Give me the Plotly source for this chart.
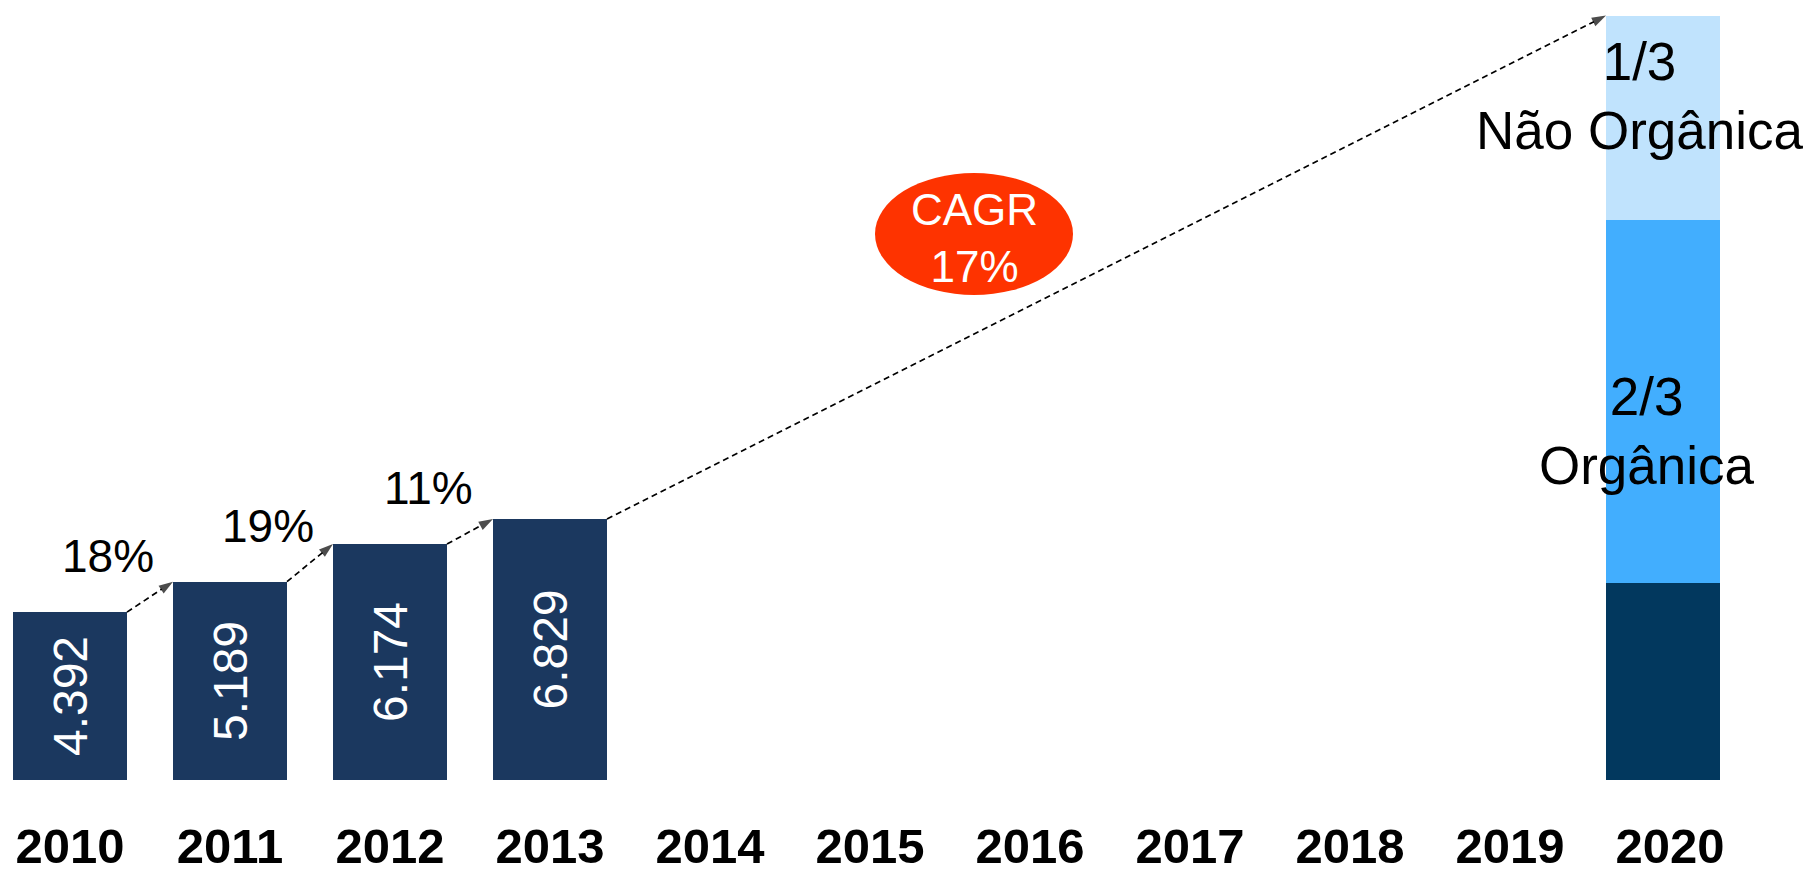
import plotly.graph_objects as go

# ---- data ----
years = [2010, 2011, 2012, 2013, 2014, 2015, 2016, 2017, 2018, 2019, 2020]
year_labels = ["2010", "2011", "2012", "2013", "2014", "2015", "2016", "2017", "2018", "2019", "2020"]
hist_years = [2010, 2011, 2012, 2013]
hist_values = [4392, 5189, 6174, 6829]
hist_labels = ["4.392", "5.189", "6.174", "6.829"]
growth_labels = ["18%", "19%", "11%"]
target_year = 2020
target_parts = [5150, 9500, 5350]
target_colors = ["#02385e", "#42aefe", "#c0e3fd"]
target_names = ["Base", "Orgânica", "Não Orgânica"]
cagr_text = "CAGR<br>17%"
organic_text = "2/3<br>Orgânica"
nonorganic_text = "1/3<br>Não Orgânica"

# ---- geometry / style ----
W, H = 1814, 877
PLOT_B = 97
BAR_W = 0.7125
T_OFF = -0.4
Y_MAX = 20408
HIST_COLOR = "#1b385f"
SANS = "Liberation Sans, Arial, Helvetica, sans-serif"

fig = go.Figure()

fig.add_trace(go.Bar(
    x=hist_years, y=hist_values, width=BAR_W,
    marker=dict(color=HIST_COLOR, line=dict(width=0)),
    text=hist_labels, textposition="inside", insidetextanchor="middle",
    textangle=-90, textfont=dict(family=SANS, size=48, color="white"),
    cliponaxis=False, showlegend=False, hoverinfo="skip",
))

for val, col, name in zip(target_parts, target_colors, target_names):
    fig.add_trace(go.Bar(
        x=[target_year], y=[val], width=BAR_W, offset=T_OFF,
        marker=dict(color=col, line=dict(width=0)), name=name,
        showlegend=False, hoverinfo="skip",
    ))

target_total = sum(target_parts)

# arrows between bars
arrow_starts = [(hist_years[i] + BAR_W / 2, hist_values[i]) for i in range(len(hist_years))]
arrow_ends = [(hist_years[i + 1] - BAR_W / 2, hist_values[i + 1]) for i in range(len(hist_years) - 1)]
arrow_ends.append((target_year + T_OFF, target_total))
for (x0, y0), (x1, y1) in zip(arrow_starts, arrow_ends):
    fig.add_trace(go.Scatter(
        x=[x0, x1], y=[y0, y1], mode="lines+markers",
        line=dict(color="black", width=1.7, dash="6px,4px"),
        marker=dict(symbol=["circle", "arrow"], size=[0, 15], color="black",
                    angleref="previous", line=dict(width=0)),
        showlegend=False, hoverinfo="skip", cliponaxis=False,
    ))

annotations = []
for i, lab in enumerate(growth_labels):
    annotations.append(dict(
        x=hist_years[i] + 0.24, y=hist_values[i], yshift=56,
        text=lab, showarrow=False, xanchor="center", yanchor="middle",
        font=dict(family=SANS, size=46, color="black"),
    ))

plot_h = H - PLOT_B
def py(p):
    return (plot_h - p) / plot_h

annotations.append(dict(
    xref="paper", yref="paper", x=974 / W, y=py(238), text=cagr_text,
    showarrow=False, xanchor="center", yanchor="middle",
    font=dict(family=SANS, size=44, color="white"),
))
annotations.append(dict(
    xref="paper", yref="paper", x=1640 / W, y=py(96), text=nonorganic_text,
    showarrow=False, xanchor="center", yanchor="middle",
    font=dict(family=SANS, size=53, color="black"),
))
annotations.append(dict(
    xref="paper", yref="paper", x=1647 / W, y=py(431), text=organic_text,
    showarrow=False, xanchor="center", yanchor="middle",
    font=dict(family=SANS, size=53, color="black"),
))

shapes = [dict(
    type="circle", xref="paper", yref="paper",
    x0=875 / W, x1=1073 / W, y0=py(295), y1=py(173),
    fillcolor="#fe3300", line=dict(width=0), layer="below",
)]

x_lo = years[0] - 70 / 160
x_hi = x_lo + W / 160

fig.update_layout(
    width=W, height=H, margin=dict(l=0, r=0, t=0, b=PLOT_B, pad=0),
    paper_bgcolor="white", plot_bgcolor="white",
    barmode="stack", bargap=0,
    annotations=annotations, shapes=shapes,
    xaxis=dict(
        range=[x_lo, x_hi], tickmode="array", tickvals=years, ticktext=year_labels,
        ticks="outside", ticklen=23, tickcolor="rgba(0,0,0,0)", automargin=False,
        tickfont=dict(family=SANS, size=49, color="black", weight="bold"),
        showgrid=False, zeroline=False, showline=False, fixedrange=True,
    ),
    yaxis=dict(range=[0, Y_MAX], visible=False, showgrid=False, zeroline=False,
               fixedrange=True, automargin=False),
)

fig.write_html("out.html", config={"displayModeBar": False},
               post_script="document.body.style.margin='0';")
